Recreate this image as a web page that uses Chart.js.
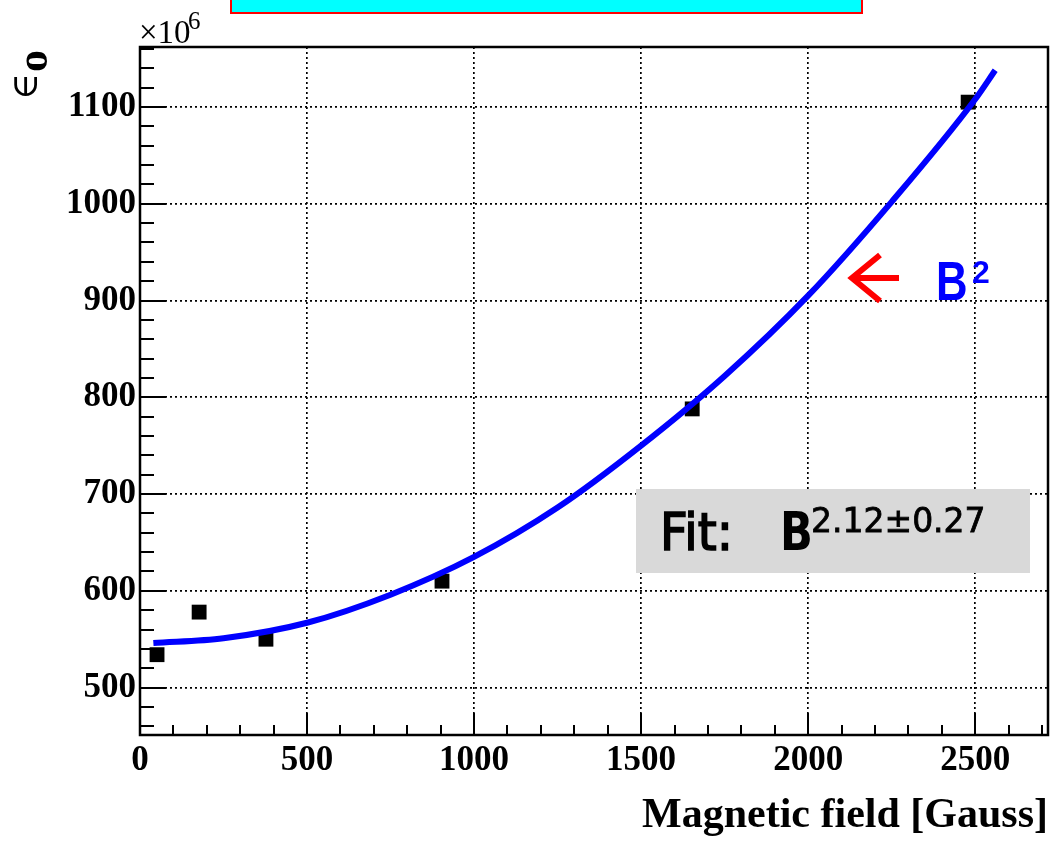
<!DOCTYPE html>
<html>
<head>
<meta charset="utf-8">
<script src="https://cdn.jsdelivr.net/npm/chart.js@4"></script>
<style>
  html, body { margin: 0; padding: 0; background: #fff; }
  canvas { display: block; }
</style>
</head>
<body>
<canvas id="chart" width="1050" height="841"></canvas>
<script>
// measured points (x in Gauss, y in units of 1e6)
const fieldValues = [51, 177, 377, 904, 1653, 2479];
const epsValues = [534, 578, 550, 610, 788, 1105];

// fitted curve
const fitField = [40, 250, 500, 750, 1000, 1250, 1500, 1750, 2000, 2250, 2500, 2560];
const fitEps = [546, 551, 567, 596, 635, 686, 750, 822, 905, 1002, 1108, 1138];

const xTicks = [0, 500, 1000, 1500, 2000, 2500];
const yTicks = [500, 600, 700, 800, 900, 1000, 1100];

const xRange = [0, 2718];
const yRange = [451, 1162];

const serif = '"Liberation Serif", "Times New Roman", serif';

// frame, inside ticks, y label, exponent and notes
const decorations = {
  id: 'decorations',
  afterDraw(chart) {
    const ctx = chart.ctx;
    const area = chart.chartArea;
    const xs = chart.scales.x;
    const ys = chart.scales.y;

    ctx.save();
    ctx.strokeStyle = '#000';
    ctx.lineWidth = 2;
    // minor / major ticks, inside the frame
    for (let v = 460; v <= 1160; v += 20) {
      const py = Math.round(ys.getPixelForValue(v));
      const len = v % 100 === 0 ? 26 : 14;
      ctx.beginPath();
      ctx.moveTo(area.left, py);
      ctx.lineTo(area.left + len, py);
      ctx.stroke();
    }
    for (let v = 0; v <= 2700; v += 100) {
      const px = Math.round(xs.getPixelForValue(v));
      const len = v % 500 === 0 ? 22 : 10;
      ctx.beginPath();
      ctx.moveTo(px, area.bottom);
      ctx.lineTo(px, area.bottom - len);
      ctx.stroke();
    }
    ctx.lineWidth = 2.5;
    ctx.strokeRect(area.left, area.top, area.right - area.left, area.bottom - area.top);
    ctx.restore();

    // x10^6
    ctx.save();
    ctx.fillStyle = '#000';
    ctx.font = '33px ' + serif;
    ctx.fillText('\u00d710', 139, 43);
    ctx.font = '25px ' + serif;
    ctx.fillText('6', 188, 29);
    ctx.restore();

    // rotated y title
    ctx.save();
    ctx.translate(37, 100);
    ctx.rotate(-Math.PI / 2);
    ctx.fillStyle = '#000';
    ctx.font = '36px "DejaVu Serif", serif';
    ctx.fillText('\u2208', 0, 0);
    ctx.font = 'bold 44px ' + serif;
    ctx.fillText('o', 28, 10);
    ctx.restore();

    // cyan header box, cut off at the top
    ctx.save();
    ctx.fillStyle = '#00ffff';
    ctx.fillRect(230, -4, 633, 17);
    ctx.strokeStyle = '#ff0000';
    ctx.lineWidth = 2;
    ctx.strokeRect(231, -4, 631, 17);
    ctx.restore();

    // fit box
    ctx.save();
    ctx.fillStyle = '#d9d9d9';
    ctx.fillRect(636, 489, 394, 84);
    ctx.fillStyle = '#000';
    ctx.strokeStyle = '#000';
    ctx.lineWidth = 1.5;
    ctx.save();
    ctx.translate(660, 550);
    ctx.scale(1.05, 1.12);
    ctx.font = '46px "DejaVu Sans", sans-serif';
    ctx.fillText('Fit:', 0, 0);
    ctx.strokeText('Fit:', 0, 0);
    ctx.restore();
    ctx.save();
    ctx.translate(780, 550);
    ctx.scale(0.8, 1);
    ctx.font = 'bold 54px "DejaVu Sans", sans-serif';
    ctx.fillText('B', 0, 0);
    ctx.restore();
    ctx.font = '33px "DejaVu Sans", sans-serif';
    ctx.fillText('2.12\u00b10.27', 811, 532);
    ctx.lineWidth = 0.8;
    ctx.strokeText('2.12\u00b10.27', 811, 532);
    ctx.restore();

    // red arrow and B^2
    ctx.save();
    ctx.strokeStyle = '#ff0000';
    ctx.lineWidth = 6;
    ctx.lineJoin = 'miter';
    ctx.beginPath();
    ctx.moveTo(851, 278);
    ctx.lineTo(899, 278);
    ctx.stroke();
    ctx.beginPath();
    ctx.moveTo(880, 255);
    ctx.lineTo(852, 278);
    ctx.lineTo(880, 301);
    ctx.stroke();
    ctx.fillStyle = '#0000ff';
    ctx.save();
    ctx.translate(936, 300);
    ctx.scale(0.78, 1);
    ctx.font = 'bold 56px "Liberation Sans", Arial, sans-serif';
    ctx.fillText('B', 0, 0);
    ctx.restore();
    ctx.font = 'bold 32px "Liberation Sans", Arial, sans-serif';
    ctx.fillText('2', 972, 283);
    ctx.restore();
  }
};

const ctx = document.getElementById('chart').getContext('2d');
new Chart(ctx, {
  type: 'scatter',
  data: {
    datasets: [
      {
        label: 'fit',
        data: fitField.map((x, i) => ({ x: x, y: fitEps[i] })),
        showLine: true,
        borderColor: '#0000ff',
        borderWidth: 6,
        pointRadius: 0,
        cubicInterpolationMode: 'monotone',
        fill: false,
        order: 0
      },
      {
        label: 'data',
        data: fieldValues.map((x, i) => ({ x: x, y: epsValues[i] })),
        pointStyle: 'rect',
        pointRadius: 10.5,
        backgroundColor: '#000',
        borderColor: '#000',
        borderWidth: 0,
        showLine: false,
        order: 1
      }
    ]
  },
  options: {
    responsive: false,
    animation: false,
    devicePixelRatio: 1,
    layout: { autoPadding: false, padding: { top: 47, right: 2, left: 0, bottom: 0 } },
    plugins: {
      legend: { display: false },
      tooltip: { enabled: false }
    },
    scales: {
      x: {
        type: 'linear',
        min: xRange[0],
        max: xRange[1],
        afterFit: (scale) => {
          scale.height = 106;
          scale.paddingLeft = 0;
          scale.paddingRight = 0;
        },
        afterBuildTicks: (scale) => { scale.ticks = xTicks.map(v => ({ value: v })); },
        ticks: {
          color: '#000',
          padding: 5,
          maxRotation: 0,
          callback: (v) => String(v),
          font: { family: serif, size: 35, weight: 'bold' }
        },
        grid: { color: '#000', lineWidth: 1.7, drawTicks: false },
        border: { display: false, dash: [2, 3] },
        title: {
          display: true,
          text: 'Magnetic field [Gauss]',
          align: 'end',
          color: '#000',
          padding: { top: 0, bottom: 0 },
          font: { family: serif, size: 42, weight: 'bold' }
        }
      },
      y: {
        type: 'linear',
        min: yRange[0],
        max: yRange[1],
        afterFit: (scale) => { scale.width = 140; },
        afterBuildTicks: (scale) => { scale.ticks = yTicks.map(v => ({ value: v })); },
        ticks: {
          color: '#000',
          padding: 4,
          callback: (v) => String(v),
          font: { family: serif, size: 35, weight: 'bold' }
        },
        grid: { color: '#000', lineWidth: 1.7, drawTicks: false },
        border: { display: false, dash: [2, 3] }
      }
    }
  },
  plugins: [decorations]
});
</script>
</body>
</html>
